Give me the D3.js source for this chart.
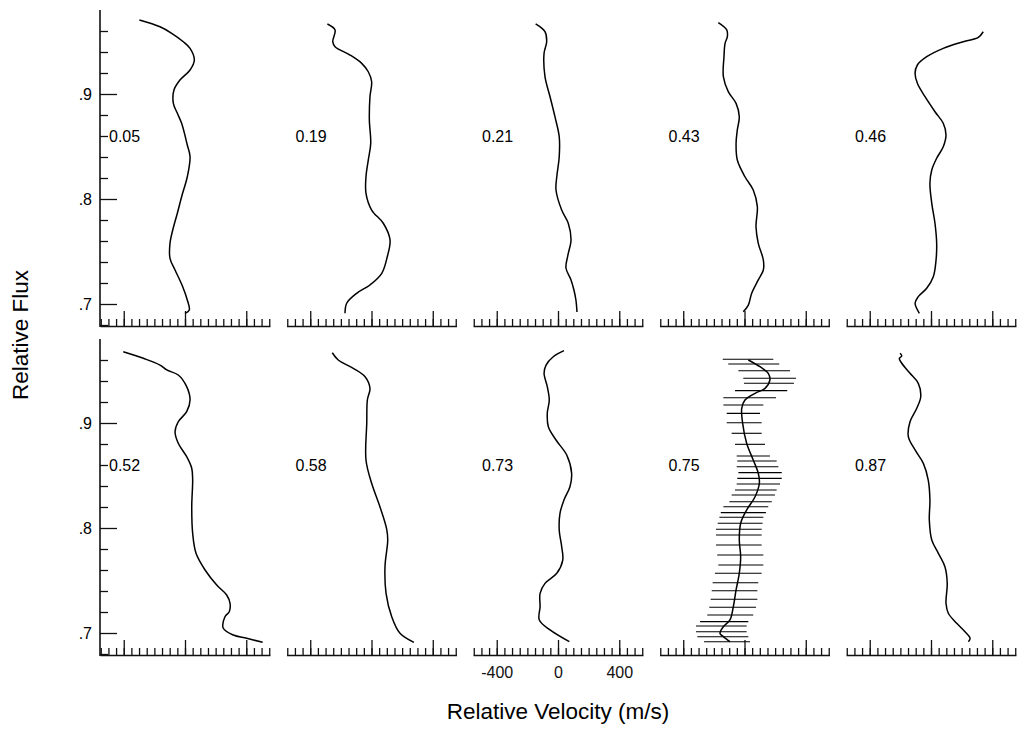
<!DOCTYPE html>
<html lang="en">
<head>
<meta charset="utf-8" />
<title>Relative Flux vs Relative Velocity</title>
<script src="https://cdn.jsdelivr.net/npm/d3@7"></script>
<style>
  body { margin: 0; background: #fff; }
  svg { display: block; font-family: "Liberation Sans", Arial, sans-serif; }
  .axis path, .axis line { stroke: #111; stroke-width: 1.3; }
  .axis text { font-size: 16px; fill: #111; font-family: "Liberation Sans", Arial, sans-serif; }
  .curve { fill: none; stroke: #000; stroke-width: 1.5; }
  .bar { stroke: #000; stroke-width: 1.1; }
</style>
</head>
<body>
<svg width="1019" height="730"></svg>
<script>
// phase labels, one per panel (top row then bottom row)
var panelLabels = ["0.05", "0.19", "0.21", "0.43", "0.46", "0.52", "0.58", "0.73", "0.75", "0.87"];

// each curve: [velocity m/s, relative flux]
var c05 = [[-298,.9705],[-163,.964],[-87,.9578],[-11,.9498],[33,.9435],[61,.9324],[33,.9229],[-33,.9133],[-72,.9038],[-76,.8911],[-50,.8816],[-22,.8721],[15,.8514],[33,.8403],[15,.8212],[-22,.8022],[-50,.7864],[-80,.7705],[-98,.7578],[-98,.7435],[-65,.7324],[-15,.7165],[15,.7038],[28,.6943],[0,.6911]];
var c19 = [[-288,.9667],[-238,.961],[-253,.9498],[-238,.945],[-140,.9371],[-64,.9292],[-21,.9212],[1,.9117],[-10,.8974],[-14,.8752],[-5,.853],[-21,.8371],[-36,.8212],[-36,.8054],[1,.7895],[77,.7769],[121,.761],[103,.745],[67,.7292],[-10,.7181],[-97,.7102],[-162,.7007],[-173,.6911]];
var c21 = [[-146,.9667],[-85,.9593],[-74,.9498],[-91,.9388],[-85,.9165],[-52,.8974],[-20,.8784],[8,.8593],[8,.8403],[-8,.8212],[-13,.8086],[24,.7895],[67,.7769],[85,.761],[65,.7467],[52,.7343],[85,.7229],[104,.7133],[117,.7038],[124,.6924]];
var c43 = [[-171,.9679],[-116,.961],[-112,.9546],[-127,.9483],[-134,.9355],[-138,.9165],[-106,.9022],[-55,.8911],[-34,.8784],[-47,.8657],[-55,.853],[-47,.8371],[3,.8212],[57,.8086],[84,.7927],[75,.7736],[90,.7578],[123,.7419],[123,.7324],[90,.7229],[47,.7102],[25,.699],[-8,.6927]];
var c46 = [[341,.9593],[309,.954],[211,.9498],[80,.9435],[-28,.9355],[-89,.9276],[-104,.9197],[-89,.9102],[-39,.8974],[26,.8831],[80,.8721],[98,.861],[80,.8498],[37,.8388],[5,.8276],[-7,.815],[5,.7959],[26,.7769],[37,.7578],[33,.7419],[15,.726],[-28,.715],[-83,.707],[-104,.7007],[-76,.6911]];
var c52 = [[-403,.9679],[-272,.9616],[-163,.9552],[-119,.9505],[-44,.9457],[11,.9346],[33,.9219],[11,.9108],[-44,.9012],[-65,.8917],[-44,.8807],[11,.8679],[44,.8569],[50,.8457],[44,.8203],[50,.795],[72,.7759],[131,.76],[207,.7457],[272,.7362],[294,.7283],[289,.7203],[261,.7155],[250,.7045],[315,.6981],[403,.695],[507,.6911]];
var c58 = [[-256,.9669],[-217,.96],[-119,.9521],[-42,.9441],[-10,.933],[-27,.9219],[-31,.8997],[-36,.8648],[1,.8426],[55,.8203],[99,.799],[106,.7886],[88,.7631],[95,.7378],[132,.7155],[186,.6997],[277,.6911]];
var c73 = [[39,.9689],[-31,.9631],[-78,.9552],[-91,.9473],[-70,.9346],[-57,.9219],[-70,.9092],[-63,.8965],[-13,.8838],[57,.8695],[89,.8521],[78,.8393],[39,.8267],[13,.814],[8,.7981],[24,.7822],[31,.7695],[-8,.7569],[-85,.7473],[-117,.7378],[-117,.725],[-122,.7124],[-52,.7029],[74,.6917]];
var c75 = [[25,.96],[101,.9536],[155,.9473],[166,.941],[134,.933],[69,.9283],[3,.9219],[-18,.914],[-12,.8997],[14,.8807],[57,.8648],[90,.8521],[97,.8426],[69,.8298],[14,.8171],[-25,.8045],[-34,.7886],[-25,.7727],[-34,.7569],[-55,.741],[-73,.725],[-95,.7124],[-138,.706],[-160,.6997],[-138,.6965],[-95,.6917]];
var c87 = [[-202,.9664],[-191,.9638],[-207,.9616],[-191,.9569],[-137,.9473],[-83,.9378],[-67,.925],[-93,.914],[-137,.9012],[-148,.887],[-104,.8743],[-50,.8616],[-18,.8457],[-7,.8267],[-11,.8076],[5,.7886],[48,.7759],[91,.7631],[106,.7473],[98,.7283],[113,.7188],[168,.7092],[222,.7012],[255,.695],[244,.6917]];
var curves = [c05, c19, c21, c43, c46, c52, c58, c73, c75, c87];

// error bars of the 0.75 panel: flux level, low and high velocity
var barFlux = [.9607,.9562,.9498,.9426,.9378,.9308,.9241,.9171,.9092,.9003,.8902,.8797,.8686,.8638,.8584,.8527,.8473,.8419,.8362,.8314,.825,.8203,.8146,.8102,.8045,.7988,.7933,.7838,.7743,.7648,.7569,.7479,.7403,.7321,.7245,.7171,.7108,.7067,.7012,.6965,.6917];
var barLo = [-142,-106,-40,-8,-3,-62,-138,-138,-116,-116,-84,-62,-51,-47,-51,-40,-47,-51,-62,-84,-99,-138,-155,-164,-175,-186,-186,-186,-178,-171,-193,-208,-214,-221,-230,-243,-290,-317,-317,-308,-264];
var barHi = [188,227,297,336,323,279,206,123,101,112,112,134,166,210,221,243,243,232,210,199,178,155,140,123,118,112,112,112,123,123,112,90,84,84,75,57,25,14,14,25,36];
var barPanel = 8;

// axis ticks
var xTicks = d3.range(-550, 551, 50);
var xMajor = [-400, 0, 400];
var yTicks = [.68,.70,.72,.74,.76,.78,.80,.82,.84,.86,.88,.90,.92,.94,.96];
var yMajor = [.7, .8, .9];
var labelPanel = 7;

var svg = d3.select("svg");
var left0 = 100, step = 186.5, pw = 170, rowTop = [10, 339], rowH = 315;

rowTop.forEach(function(top, r) {
  var y = d3.scaleLinear().domain([0.68, 0.98]).range([top + rowH, top]);

  // left axis line
  svg.append("line")
      .attr("x1", left0).attr("x2", left0)
      .attr("y1", top).attr("y2", top + rowH + 2)
      .style("stroke", "#111").style("stroke-width", 1.6);

  svg.append("g").attr("class", "axis")
      .attr("transform", "translate(" + left0 + ",0)")
      .call(d3.axisRight(y).tickValues(yTicks.filter(function(t) { return yMajor.indexOf(t) < 0; }))
        .tickSize(8).tickFormat(""))
      .call(function(g) { g.select(".domain").remove(); });

  svg.append("g").attr("class", "axis")
      .attr("transform", "translate(" + left0 + ",0)")
      .call(d3.axisRight(y).tickValues(yMajor).tickSize(17).tickFormat(""))
      .call(function(g) { g.select(".domain").remove(); });

  yMajor.forEach(function(t) {
    svg.append("text")
      .attr("x", 92).attr("y", y(t) + 6)
      .attr("text-anchor", "end")
      .style("font-size", "16px")
      .text(d3.format(".1f")(t).replace(/^0/, ""));
  });

  for (var c = 0; c < 5; c++) {
    var i = r * 5 + c;
    var x0 = left0 + c * step;
    var x = d3.scaleLinear().domain([-555, 555]).range([x0, x0 + pw]);
    var axisY = top + rowH + 1;

    svg.append("g").attr("class", "axis")
        .attr("transform", "translate(0," + axisY + ")")
        .call(d3.axisTop(x).tickValues(xTicks).tickSize(7).tickSizeOuter(0).tickFormat(""));
    svg.append("g").attr("class", "axis")
        .attr("transform", "translate(0," + axisY + ")")
        .call(d3.axisTop(x).tickValues(xMajor).tickSize(15).tickFormat(""))
        .call(function(g) { g.select(".domain").remove(); });

    if (i === labelPanel) {
      svg.append("g").attr("class", "axis")
          .attr("transform", "translate(0," + axisY + ")")
          .call(d3.axisBottom(x).tickValues(xMajor).tickSize(0).tickPadding(12)
            .tickFormat(function(d) { return String(d); }))
          .call(function(g) { g.select(".domain").remove(); });
    }

    if (i === barPanel) {
      svg.append("g").selectAll("line").data(barFlux).enter().append("line")
          .attr("class", "bar")
          .attr("x1", function(d, k) { return x(barLo[k]); })
          .attr("x2", function(d, k) { return x(barHi[k]); })
          .attr("y1", function(d) { return y(d); })
          .attr("y2", function(d) { return y(d); });
    }

    var line = d3.line()
        .x(function(d) { return x(d[0]); })
        .y(function(d) { return y(d[1]); })
        .curve(d3.curveCatmullRom.alpha(0.5));

    svg.append("path").attr("class", "curve").attr("d", line(curves[i]));

    svg.append("text")
      .attr("x", x0 + 9).attr("y", y(0.86) + 6)
      .style("font-size", "16px")
      .text(panelLabels[i]);
  }
});

svg.append("text")
  .attr("transform", "translate(28,335) rotate(-90)")
  .attr("text-anchor", "middle")
  .style("font-size", "22.5px")
  .text("Relative Flux");

svg.append("text")
  .attr("x", 558).attr("y", 719)
  .attr("text-anchor", "middle")
  .style("font-size", "22.5px")
  .text("Relative Velocity (m/s)");
</script>
</body>
</html>
